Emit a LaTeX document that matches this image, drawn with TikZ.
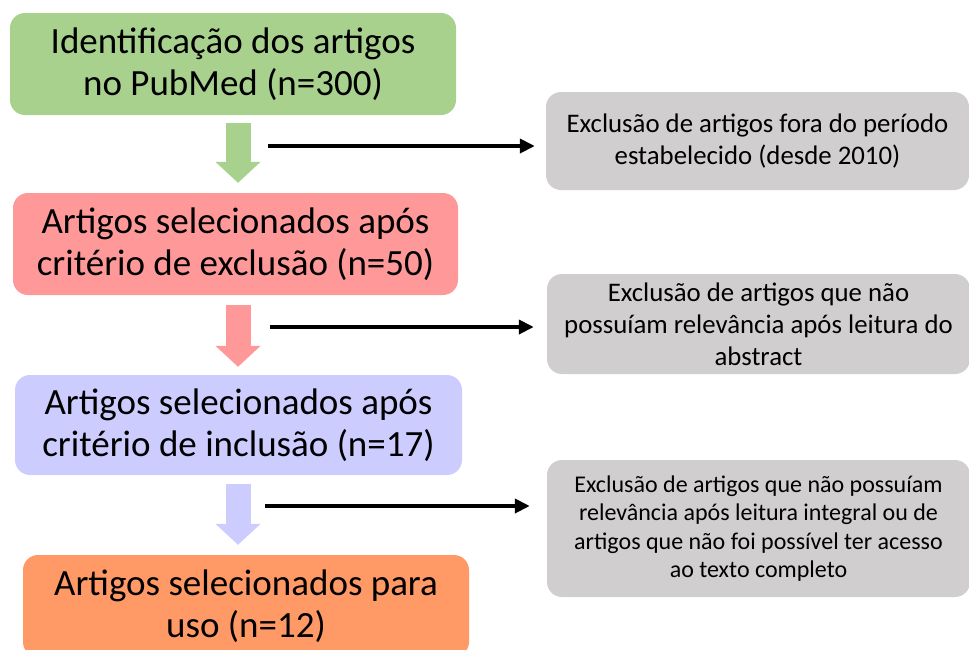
\documentclass[tikz,border=0pt]{standalone}
\usepackage{fontspec}
\setmainfont{Carlito}
\usetikzlibrary{arrows.meta,calc}
\definecolor{cgreen}{HTML}{A9D18E}
\definecolor{cred}{HTML}{FF9999}
\definecolor{cblue}{HTML}{CCCCFF}
\definecolor{corange}{HTML}{FF9966}
\definecolor{cgray}{HTML}{D0CECE}
\tikzset{
  mainbox/.style={rounded corners=15pt, inner sep=0pt, align=center, text=black,
    font=\fontsize{37}{42}\selectfont},
  sidebox/.style={rounded corners=15pt, inner sep=0pt, align=center, text=black, fill=cgray,
    minimum width=423pt},
  blk/.style={line width=25pt, -{Triangle[width=44pt,length=21pt]}, draw=#1},
  conn/.style={line width=4pt, black, -{Triangle[width=14pt,length=15pt]}},
}
\begin{document}
\begin{tikzpicture}[x=1pt,y=-1pt]
\useasboundingbox (0,0) rectangle (969,649);
\node[mainbox, fill=cgreen, minimum width=446pt, minimum height=102pt] (b1) at (233,64)
  {Identificação dos artigos\\no PubMed (n=300)};
\node[mainbox, fill=cred, minimum width=445pt, minimum height=102pt] (b2) at (235.5,244)
  {Artigos selecionados após\\critério de exclusão (n=50)};
\node[mainbox, fill=cblue, minimum width=447pt, minimum height=100pt] (b3) at (238.5,425)
  {Artigos selecionados após\\critério de inclusão (n=17)};
\node[mainbox, fill=corange, minimum width=446pt, minimum height=102pt] (b4) at (246,606)
  {Artigos selecionados para\\uso (n=12)};

\node[sidebox, minimum height=98pt, font=\fontsize{26.8}{32}\selectfont] (g1) at (757.5,141)
  {Exclusão de artigos fora do período\\estabelecido (desde 2010)};
\node[sidebox, minimum height=100pt, font=\fontsize{26.8}{32}\selectfont] (g2) at (758.5,324)
  {Exclusão de artigos que não\\possuíam relevância após leitura do\\abstract};
\node[sidebox, minimum height=137pt, font=\fontsize{24}{28.5}\selectfont] (g3) at (758.5,528.5)
  {Exclusão de artigos que não possuíam\\relevância após leitura integral ou de\\artigos que não foi possível ter acesso\\ao texto completo};

\draw[blk=cgreen] ([xshift=5pt,yshift=-8pt]b1.south) -- ([xshift=2.5pt,yshift=10pt]b2.north);
\draw[blk=cred] ([xshift=2.5pt,yshift=-10pt]b2.south) -- ([xshift=-0.5pt,yshift=8pt]b3.north);
\draw[blk=cblue] ([xshift=-0.5pt,yshift=-9pt]b3.south) -- ([xshift=-8pt,yshift=10pt]b4.north);

\coordinate (s1) at (268,146);
\coordinate (s2) at (270,327);
\coordinate (s3) at (265,506);
\draw[conn, shorten >=11pt] (s1) -- (s1 -| g1.west);
\draw[conn, shorten >=13pt] (s2) -- (s2 -| g2.west);
\draw[conn, shorten >=17pt] (s3) -- (s3 -| g3.west);
\end{tikzpicture}
\end{document}
